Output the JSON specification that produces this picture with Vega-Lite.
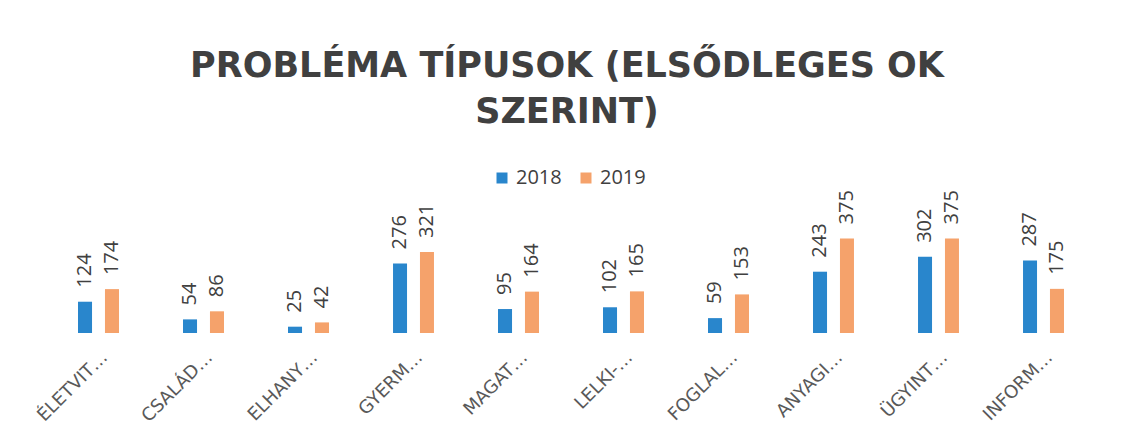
{
  "$schema": "https://vega.github.io/schema/vega-lite/v6.json",
  "width": 1050,
  "height": 140,
  "autosize": {"type": "none"},
  "padding": {"left": 46, "top": 193, "right": 26, "bottom": 97},
  "background": "white",
  "title": {
    "text": ["PROBLÉMA TÍPUSOK (ELSŐDLEGES OK", "SZERINT)"],
    "font": "DejaVu Sans",
    "fontSize": 35,
    "fontWeight": "bold",
    "color": "#404040",
    "lineHeight": 46,
    "anchor": "middle",
    "dy": -34,
    "dx": -4
  },
  "data": {
    "values": [
      {"cat": "ÉLETVIT…", "year": "2018", "value": 124},
      {"cat": "ÉLETVIT…", "year": "2019", "value": 174},
      {"cat": "CSALÁD…", "year": "2018", "value": 54},
      {"cat": "CSALÁD…", "year": "2019", "value": 86},
      {"cat": "ELHANY…", "year": "2018", "value": 25},
      {"cat": "ELHANY…", "year": "2019", "value": 42},
      {"cat": "GYERM…", "year": "2018", "value": 276},
      {"cat": "GYERM…", "year": "2019", "value": 321},
      {"cat": "MAGAT…", "year": "2018", "value": 95},
      {"cat": "MAGAT…", "year": "2019", "value": 164},
      {"cat": "LELKI-…", "year": "2018", "value": 102},
      {"cat": "LELKI-…", "year": "2019", "value": 165},
      {"cat": "FOGLAL…", "year": "2018", "value": 59},
      {"cat": "FOGLAL…", "year": "2019", "value": 153},
      {"cat": "ANYAGI…", "year": "2018", "value": 243},
      {"cat": "ANYAGI…", "year": "2019", "value": 375},
      {"cat": "ÜGYINT…", "year": "2018", "value": 302},
      {"cat": "ÜGYINT…", "year": "2019", "value": 375},
      {"cat": "INFORM…", "year": "2018", "value": 287},
      {"cat": "INFORM…", "year": "2019", "value": 175}
    ]
  },
  "encoding": {
    "x": {
      "field": "cat",
      "type": "nominal",
      "sort": null,
      "scale": {"paddingInner": 0.61, "paddingOuter": 0.305},
      "axis": {
        "title": null,
        "labelAngle": -45,
        "domain": false,
        "ticks": false,
        "labelFont": "DejaVu Sans",
        "labelFontSize": 18,
        "labelColor": "#595959",
        "labelPadding": 15,
        "labelLimit": 0
      }
    },
    "xOffset": {
      "field": "year",
      "type": "nominal",
      "scale": {"paddingInner": 0.48, "paddingOuter": 0}
    },
    "y": {
      "field": "value",
      "type": "quantitative",
      "scale": {"domain": [0, 555], "nice": false},
      "axis": null
    }
  },
  "layer": [
    {
      "mark": {"type": "bar"},
      "encoding": {
        "color": {
          "field": "year",
          "type": "nominal",
          "scale": {"domain": ["2018", "2019"], "range": ["#2986CC", "#F5A26B"]},
          "legend": {
            "title": null,
            "orient": "none",
            "direction": "horizontal",
            "legendX": 446,
            "legendY": -25,
            "symbolType": "square",
            "symbolSize": 121,
            "symbolStrokeWidth": 0,
            "labelFont": "Open Sans",
            "labelFontSize": 20,
            "labelColor": "#404040",
            "labelOffset": 4,
            "columnPadding": 14
          }
        }
      }
    },
    {
      "mark": {
        "type": "text",
        "angle": -90,
        "align": "left",
        "baseline": "middle",
        "dx": 14,
        "font": "Open Sans",
        "fontSize": 20,
        "color": "#404040"
      },
      "encoding": {
        "text": {"field": "value", "type": "quantitative"}
      }
    }
  ],
  "config": {
    "view": {"stroke": null}
  }
}
